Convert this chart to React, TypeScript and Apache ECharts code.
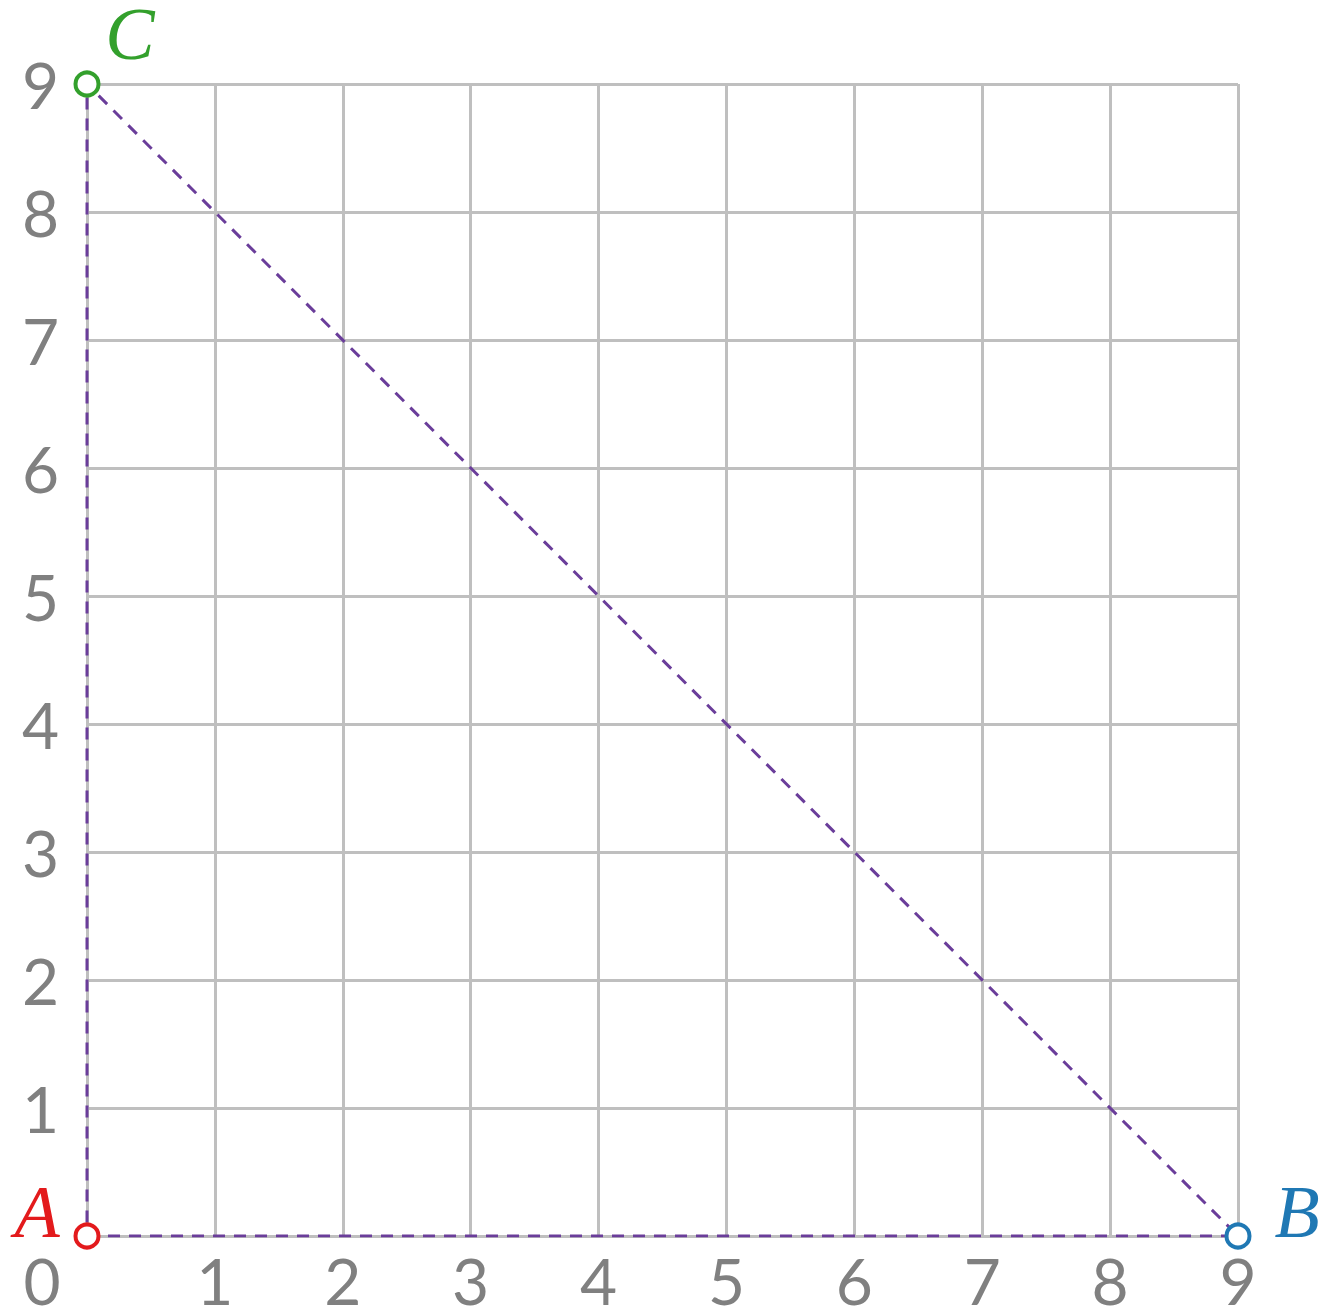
import React, { useEffect, useRef } from "react";
import * as echarts from "echarts";

const xTicks = [0, 1, 2, 3, 4, 5, 6, 7, 8, 9];
const yTicks = [0, 1, 2, 3, 4, 5, 6, 7, 8, 9];
const pointNames = ["A", "B", "C"];
const pointX = [0, 9, 0];
const pointY = [0, 0, 9];
const pointColors = ["#e31a1c", "#1f78b4", "#33a02c"];
const triangleOrder = [0, 1, 2, 0];
const originLabel = "0";

export default function App() {
  const ref = useRef<HTMLDivElement>(null);
  useEffect(() => {
    document.body.style.margin = "0";
    if (!ref.current) return;
    const chart = echarts.init(ref.current, null, { renderer: "svg" });
    const gridColor = "#bfbfbf";
    const tickFont = "Lato, 'Noto Sans', sans-serif";
    const labelOffsets: Record<string, [number, number]> = {
      A: [-50, -24],
      B: [59, -24],
      C: [43, -50],
    };
    chart.setOption({
      animation: false,
      grid: { left: 87, right: 87, top: 84, bottom: 78, containLabel: false },
      xAxis: {
        type: "value",
        min: xTicks[0],
        max: xTicks[xTicks.length - 1],
        interval: 1,
        axisLine: { show: true, lineStyle: { color: gridColor, width: 3 } },
        axisTick: { show: false },
        splitLine: { show: true, lineStyle: { color: gridColor, width: 3 } },
        axisLabel: {
          margin: 19,
          color: "#808080",
          fontSize: 64,
          lineHeight: 50,
          fontFamily: tickFont,
          formatter: (v: number) => (v === 0 ? "" : String(v)),
        },
      },
      yAxis: {
        type: "value",
        min: yTicks[0],
        max: yTicks[yTicks.length - 1],
        interval: 1,
        axisLine: { show: true, lineStyle: { color: gridColor, width: 3 } },
        axisTick: { show: false },
        splitLine: { show: true, lineStyle: { color: gridColor, width: 3 } },
        axisLabel: {
          margin: 28,
          color: "#808080",
          fontSize: 64,
          lineHeight: 50,
          fontFamily: tickFont,
          formatter: (v: number) => (v === 0 ? "" : String(v)),
        },
      },
      series: [
        {
          type: "line",
          data: triangleOrder.map((i) => [pointX[i], pointY[i]]),
          showSymbol: false,
          symbol: "none",
          lineStyle: { color: "#6a3d9a", width: 3, type: [12, 9] },
          z: 3,
        },
        {
          type: "scatter",
          symbol: "circle",
          symbolSize: 23,
          z: 5,
          itemStyle: { opacity: 1 },
          data: pointNames.map((n, i) => ({
            name: n,
            value: [pointX[i], pointY[i]],
            itemStyle: { color: "#ffffff", borderColor: pointColors[i], borderWidth: 4, opacity: 1 },
            label: {
              show: true,
              formatter: n,
              position: "inside",
              offset: labelOffsets[n],
              color: pointColors[i],
              opacity: 1,
              fontSize: 74,
              lineHeight: 56,
              fontStyle: "italic",
              fontFamily: "'Liberation Serif', 'DejaVu Serif', serif",
            },
          })),
        },
      ],
    });
    const p = chart.convertToPixel({ gridIndex: 0 }, [xTicks[0], yTicks[0]]) as number[];
    chart.setOption({
      graphic: [
        {
          type: "text",
          x: p[0] - 45,
          y: p[1] + 44,
          style: {
            text: originLabel,
            fill: "#808080",
            fontSize: 64,
            lineHeight: 50,
            fontFamily: tickFont,
            align: "center",
            verticalAlign: "middle",
          },
        },
      ],
    });
    return () => chart.dispose();
  }, []);
  return <div ref={ref} style={{ width: 1325, height: 1314 }} />;
}
